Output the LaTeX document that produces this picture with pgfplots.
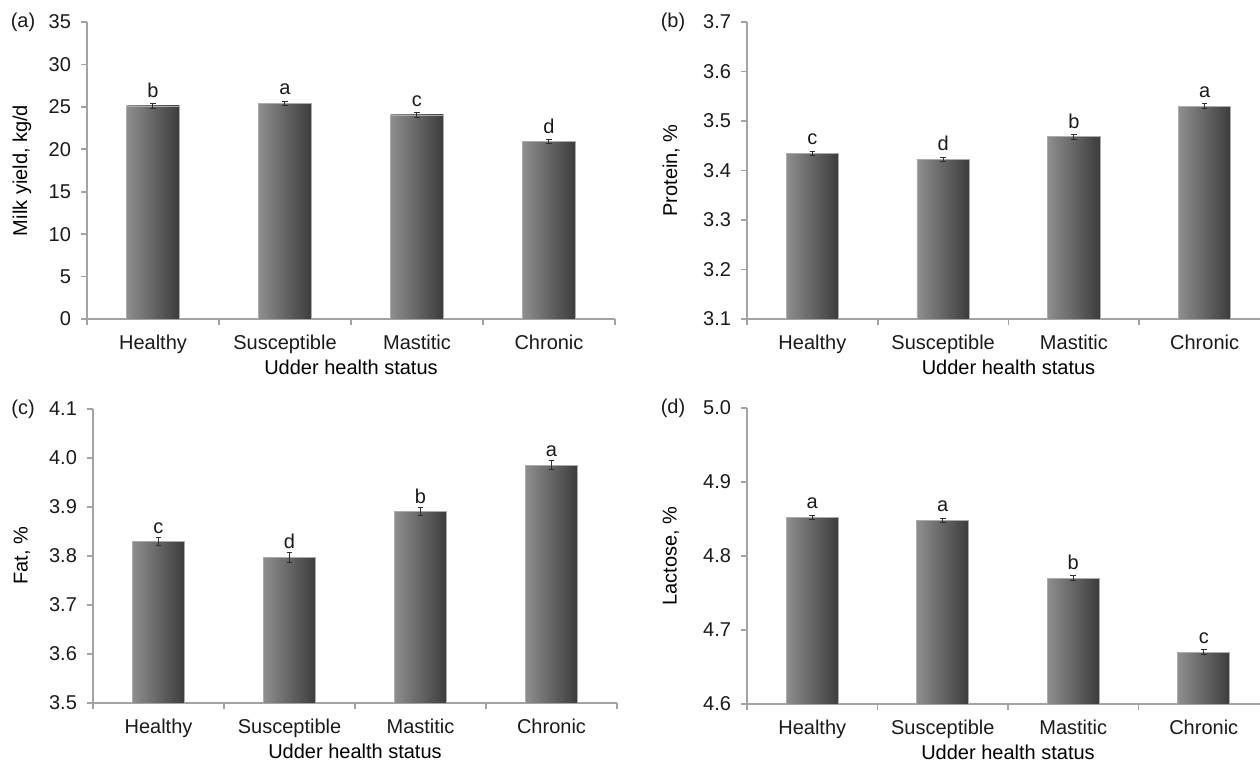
\documentclass[border=0pt]{standalone}
\usepackage{pgfplots}
\pgfplotsset{compat=1.18}
\usepackage{pgfplotstable}
\usepackage{fontspec}
\setmainfont{Liberation Sans}
\definecolor{axgray}{HTML}{A3A3A3}
\definecolor{txt}{HTML}{1A1A1A}
\definecolor{barL}{HTML}{8E8E8E}
\definecolor{barR}{HTML}{3C3C3C}
\definecolor{errc}{HTML}{2E2E2E}

\pgfplotstableread{
x y e l
0.5 25.10 0.30 b
1.5 25.42 0.25 a
2.5 24.05 0.25 c
3.5 20.90 0.25 d
}\tA
\pgfplotstableread{
x y e l
0.5 3.435 0.004 c
1.5 3.423 0.004 d
2.5 3.468 0.005 b
3.5 3.530 0.005 a
}\tB
\pgfplotstableread{
x y e l
0.5 3.829 0.008 c
1.5 3.797 0.010 d
2.5 3.890 0.008 b
3.5 3.985 0.009 a
}\tC
\pgfplotstableread{
x y e l
0.5 4.852 0.003 a
1.5 4.848 0.003 a
2.5 4.770 0.003 b
3.5 4.670 0.003 c
}\tD

\pgfplotsset{
  panel/.style={
    scale only axis, anchor=south west,
    xmin=0, xmax=4, xtick={0,1,2,3,4}, xticklabels={},
    extra x ticks={0.5,1.5,2.5,3.5},
    extra x tick labels={Healthy,Susceptible,Mastitic,Chronic},
    extra x tick style={major tick length=0pt, tick style={draw=none},
      xticklabel style={anchor=base, yshift=-15.5pt}},
    axis lines*=left,
    axis line style={axgray, line width=0.8pt},
    tick align=outside, major tick length=3pt,
    tick style={axgray, line width=0.8pt},
    tick label style={font=\fontsize{10}{12}\selectfont, text=txt},
    label style={font=\fontsize{10}{12}\selectfont, text=txt},
    /pgf/number format/assume math mode=true,
    xlabel={Udder health status},
    every axis x label/.style={at={(axis description cs:0.5,0)}, anchor=base, yshift=-28pt},
    yticklabel style={xshift=-1.5pt},
  },
  bars/.style={
    ybar, bar width=0.4, draw=gray!65, line width=0.4pt,
    left color=barL, right color=barR,
    restrict expr to domain={\coordindex}{#1:#1},
    nodes near coords, point meta=explicit symbolic,
    every node near coord/.append style={font=\fontsize{10}{12}\selectfont, text=txt, inner sep=1pt, yshift=3pt},
    error bars/.cd, y dir=both, y explicit,
    error bar style={errc, line width=0.5pt},
    error mark options={errc, rotate=90, mark size=1.4pt, line width=0.5pt},
  },
  onedec/.style={/pgf/number format/.cd, fixed, fixed zerofill, precision=1},
}

\begin{document}
\begin{tikzpicture}
% (a)
\begin{axis}[panel, at={(43.5pt,222.5pt)}, width=264pt, height=148.5pt,
  ymin=0, ymax=35, ytick={0,5,...,35},
  ylabel={Milk yield, kg/d},
  every axis y label/.style={at={(axis description cs:-0.123,0.5)}, rotate=90, anchor=center}]
\pgfplotsinvokeforeach{0,1,2,3}{\addplot[bars=#1] table[x=x, y=y, y error=e, meta=l] {\tA};}
\end{axis}
% (b)
\begin{axis}[panel, at={(373.5pt,222.5pt)}, width=261.5pt, height=148.5pt,
  ymin=3.1, ymax=3.7, ytick={3.1,3.2,...,3.71}, yticklabel style={onedec},
  ylabel={Protein, \%},
  every axis y label/.style={at={(axis description cs:-0.145,0.5)}, rotate=90, anchor=center}]
\pgfplotsinvokeforeach{0,1,2,3}{\addplot[bars=#1] table[x=x, y=y, y error=e, meta=l] {\tB};}
\end{axis}
% (c)
\begin{axis}[panel, at={(46.5pt,30.5pt)}, width=262pt, height=147pt,
  ymin=3.5, ymax=4.1, ytick={3.5,3.6,...,4.11}, yticklabel style={onedec},
  ylabel={Fat, \%},
  every axis y label/.style={at={(axis description cs:-0.1355,0.5)}, rotate=90, anchor=center}]
\pgfplotsinvokeforeach{0,1,2,3}{\addplot[bars=#1] table[x=x, y=y, y error=e, meta=l] {\tC};}
\end{axis}
% (d)
\begin{axis}[panel, at={(373.5pt,30pt)}, width=261pt, height=148pt,
  ymin=4.6, ymax=5.0, ytick={4.6,4.7,...,5.01}, yticklabel style={onedec},
  ylabel={Lactose, \%},
  every axis y label/.style={at={(axis description cs:-0.1456,0.5)}, rotate=90, anchor=center}]
\pgfplotsinvokeforeach{0,1,2,3}{\addplot[bars=#1] table[x=x, y=y, y error=e, meta=l] {\tD};}
\end{axis}
\node[font=\fontsize{10}{12}\selectfont, text=txt] at (11.5pt,371pt) {(a)};
\node[font=\fontsize{10}{12}\selectfont, text=txt] at (336.5pt,371pt) {(b)};
\node[font=\fontsize{10}{12}\selectfont, text=txt] at (11.5pt,177.5pt) {(c)};
\node[font=\fontsize{10}{12}\selectfont, text=txt] at (336.5pt,178pt) {(d)};
\pgfresetboundingbox
\useasboundingbox (0,0) rectangle (630pt,382pt);
\end{tikzpicture}
\end{document}
